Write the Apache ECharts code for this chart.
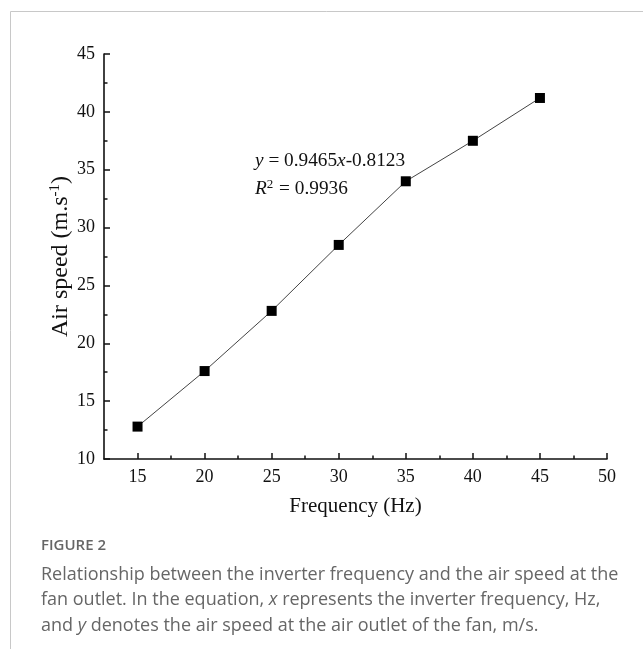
<!DOCTYPE html>
<html><head><meta charset="utf-8">
<script src="https://cdn.jsdelivr.net/npm/echarts@6/dist/echarts.min.js"></script>
<style>html,body{margin:0;padding:0;background:#fff}#c{width:643px;height:649px}</style>
</head><body><div id="c"></div>
<script>
var frequency = [15, 20, 25, 30, 35, 40, 45];
var airSpeed = [12.8, 17.6, 22.8, 28.5, 34.0, 37.5, 41.2];
var xMajorTicks = [15, 20, 25, 30, 35, 40, 45, 50];
var xMinorTicks = [17.5, 22.5, 27.5, 32.5, 37.5, 42.5, 47.5];

var serif = '"Liberation Serif","Times New Roman",serif';
var sans = '"Open Sans","Noto Sans",sans-serif';
var chart = echarts.init(document.getElementById('c'));
var data = frequency.map(function (f, i) { return [f, airSpeed[i]]; });
var axisColor = '#111';

chart.setOption({
  animation: false,
  backgroundColor: '#fff',
  grid: { left: 104, right: 36, top: 54, bottom: 190 },
  xAxis: [{
    type: 'value', min: 12.5, max: 50,
    name: 'Frequency (Hz)', nameLocation: 'middle', nameGap: 37, nameMoveOverlap: false,
    nameTextStyle: { fontFamily: serif, fontSize: 21, color: axisColor },
    axisLine: { lineStyle: { color: axisColor, width: 1.6 } },
    axisTick: { inside: true, length: 6, customValues: xMajorTicks, lineStyle: { color: axisColor, width: 1.5 } },
    axisLabel: { customValues: xMajorTicks, fontFamily: serif, fontSize: 18, color: axisColor, margin: 9 },
    splitLine: { show: false }
  }, {
    type: 'value', min: 12.5, max: 50, position: 'bottom',
    axisLine: { show: false },
    axisTick: { inside: true, length: 3.5, customValues: xMinorTicks, lineStyle: { color: axisColor, width: 1.5 } },
    axisLabel: { show: false },
    splitLine: { show: false }
  }],
  yAxis: {
    type: 'value', min: 10, max: 45, interval: 5,
    name: '{a|Air speed (m.s}{s|-1}{a|)}', nameLocation: 'middle', nameGap: 30, nameRotate: 90,
    nameMoveOverlap: false,
    nameTextStyle: { rich: {
      a: { fontFamily: serif, fontSize: 24, color: axisColor },
      s: { fontFamily: serif, fontSize: 15, color: axisColor, verticalAlign: 'top', padding: [0, 0, 11, 0] }
    } },
    axisLine: { show: true, lineStyle: { color: axisColor, width: 1.6 } },
    axisTick: { inside: true, length: 6, lineStyle: { color: axisColor, width: 1.5 } },
    minorTick: { show: true, splitNumber: 2, length: 3.5, lineStyle: { color: axisColor, width: 1.5 } },
    axisLabel: { fontFamily: serif, fontSize: 18, color: axisColor, margin: 9 },
    splitLine: { show: false }
  },
  series: [{
    type: 'line', data: data, xAxisIndex: 0,
    symbol: 'rect', symbolSize: 10,
    itemStyle: { color: '#000' },
    lineStyle: { color: '#444', width: 1 }
  }],
  graphic: [
    { type: 'line', shape: { x1: 10.5, y1: 11.5, x2: 643, y2: 11.5 }, style: { stroke: '#c8c8c8', lineWidth: 1 } },
    { type: 'line', shape: { x1: 10.5, y1: 11.5, x2: 10.5, y2: 649 }, style: { stroke: '#c8c8c8', lineWidth: 1 } },
    { type: 'text', left: 255, top: 151, style: {
      text: '{i|y} = 0.9465{i|x}-0.8123', font: '19.3px ' + serif, fill: '#111',
      rich: { i: { fontStyle: 'italic', fontFamily: serif, fontSize: 19.3, fill: '#111' } } } },
    { type: 'text', left: 255, top: 178, style: {
      text: '{i|R}{s|2} = 0.9936', font: '19.3px ' + serif, fill: '#111',
      rich: { i: { fontStyle: 'italic', fontFamily: serif, fontSize: 19.3, fill: '#111' },
              s: { fontFamily: serif, fontSize: 13, fill: '#111', verticalAlign: 'top', padding: [0, 1, 8, 0] } } } },
    { type: 'text', left: 41, top: 538, style: { text: 'FIGURE 2', font: '600 15px ' + sans, fill: '#666' } },
    { type: 'text', left: 41, top: 562, style: {
      text: 'Relationship between the inverter frequency and the air speed at the\nfan outlet. In the equation, {i|x} represents the inverter frequency, Hz,\nand {i|y} denotes the air speed at the air outlet of the fan, m/s.',
      font: '18px ' + sans, fill: '#666', lineHeight: 25.5,
      rich: { i: { fontStyle: 'italic', fontFamily: sans, fontSize: 18, fill: '#666', lineHeight: 25.5 } } } }
  ]
});
</script></body></html>
